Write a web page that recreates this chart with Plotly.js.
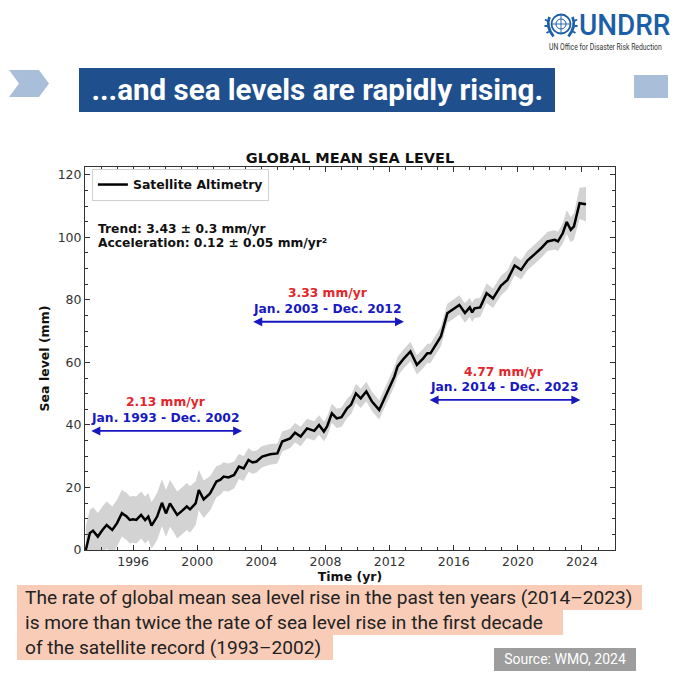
<!DOCTYPE html>
<html><head><meta charset="utf-8">
<script src="https://cdn.plot.ly/plotly-3.0.1.min.js"></script>
<style>
html,body{margin:0;padding:0;background:#fff;}
#wrap{position:relative;width:680px;height:680px;overflow:hidden;background:#fff;}
#chart{position:absolute;left:0;top:0;width:680px;height:680px;}
.ov{position:absolute;z-index:5;}
#banner{left:79px;top:68px;width:476px;height:44px;background:#1f4f8d;}
#bannerText{left:79px;top:68px;width:476px;height:44px;line-height:44px;text-align:center;color:#fff;font-family:Roboto,sans-serif;font-weight:700;font-size:30px;white-space:nowrap;}
#bannerText span{display:inline-block;transform:scaleX(0.985);transform-origin:center;}
#square{left:634px;top:75px;width:34px;height:23px;background:#a9bfd9;}
#undrr{left:579px;top:10px;font-family:Roboto,sans-serif;font-weight:500;font-size:30px;color:#1b5fa8;line-height:30px;white-space:nowrap;transform:scaleX(0.93);transform-origin:left top;}
#undrrSub{left:549px;top:42px;width:160px;font-family:Roboto,sans-serif;font-size:9px;color:#333;white-space:nowrap;transform:scaleX(0.76);transform-origin:left top;}
.hl{position:absolute;z-index:5;background:#f9ccb8;font-family:Roboto,sans-serif;font-size:19.1px;color:#222;white-space:nowrap;padding-left:8px;height:25px;line-height:25px;}
#src{left:494px;top:648px;width:142px;height:23px;line-height:23px;background:#9d9d9d;color:#fff;font-family:Roboto,sans-serif;font-size:14px;text-align:center;}
</style></head>
<body>
<div id="wrap">
<div id="chart"></div>
<svg class="ov" style="left:0;top:0" width="680" height="130">
  <polygon points="9,70 39,70 49,83.5 39,97 9,97 19,83.5" fill="#a9bfd9"/>
  <g transform="translate(561,24)" fill="none" stroke="#1b5fa8">
    <circle r="9.5" stroke-width="1.8"/>
    <circle r="5" stroke-width="1"/>
    <line x1="-9.5" y1="0" x2="9.5" y2="0" stroke-width="0.9"/>
    <line x1="0" y1="-9.5" x2="0" y2="9.5" stroke-width="0.9"/>
    <path d="M-11.5,-7 Q-15.5,2 -7.5,12.5 M11.5,-7 Q15.5,2 7.5,12.5" stroke-width="2.8"/>
    <path d="M-13.5,-3 L-16,-4.5 M-14,2 L-16.5,2 M-12,7.5 L-14.5,9 M13.5,-3 L16,-4.5 M14,2 L16.5,2 M12,7.5 L14.5,9" stroke-width="1.8"/>
  </g>
</svg>
<div class="ov" id="undrr">UNDRR</div>
<div class="ov" id="undrrSub">UN Office for Disaster Risk Reduction</div>
<div class="ov" id="banner"></div>
<div class="ov" id="bannerText"><span>...and sea levels are rapidly rising.</span></div>
<div class="ov" id="square"></div>
<div class="hl" style="left:17px;top:585px;width:617px;">The rate of global mean sea level rise in the past ten years (2014–2023)</div>
<div class="hl" style="left:17px;top:610px;width:538px;">is more than twice the rate of sea level rise in the first decade</div>
<div class="hl" style="left:17px;top:635px;width:308px;">of the satellite record (1993–2002)</div>
<div class="ov" id="src">Source: WMO, 2024</div>
</div>
<script>
// ---- data ----
const years = [1993.05,1993.3,1993.5,1993.8,1994.1,1994.35,1994.7,1995.0,1995.3,1995.6,1995.8,1996.0,1996.2,1996.5,1996.75,1996.95,1997.15,1997.5,1997.8,1998.05,1998.3,1998.55,1998.75,1999.05,1999.35,1999.55,1999.9,2000.1,2000.4,2000.8,2001.2,2001.45,2001.65,2001.95,2002.3,2002.6,2002.9,2003.2,2003.45,2003.7,2004.05,2004.55,2005.0,2005.3,2005.8,2006.1,2006.45,2006.85,2007.3,2007.6,2007.9,2008.1,2008.4,2008.7,2009.0,2009.35,2009.6,2009.9,2010.2,2010.55,2010.9,2011.35,2011.75,2012.05,2012.3,2012.5,2012.9,2013.3,2013.7,2014.1,2014.35,2014.55,2014.9,2015.2,2015.6,2015.9,2016.2,2016.35,2016.7,2017.0,2017.15,2017.3,2017.65,2018.05,2018.45,2018.95,2019.35,2019.8,2020.2,2020.6,2021.0,2021.45,2021.85,2022.3,2022.5,2022.8,2023.05,2023.3,2023.5,2023.85,2024.25];
const seaLevel = [0,5.4,6.2,4.3,6.5,8.0,6.4,8.6,11.8,10.7,9.6,9.8,9.6,11.2,9.6,10.7,7.8,10.7,15.1,11.7,14.9,13.0,11.2,12.5,13.9,13.0,14.9,19.2,16.2,18.1,21.9,22.5,23.5,23.2,24.0,26.7,26.1,28.8,28.0,28.3,29.9,30.6,30.9,34.7,35.7,37.5,36.3,38.9,38.1,40.0,37.9,39.5,43.7,42.1,42.5,45.3,46.5,50.1,48.5,50.7,47.5,44.8,49.1,52.8,55.5,58.7,61.3,63.5,59.2,61.3,62.9,62.9,65.6,68.3,75.7,76.8,77.9,78.4,75.8,77.6,76.0,77.3,77.6,82.1,80.5,84.6,86.4,91.0,89.6,92.6,94.4,96.5,98.7,99.2,98.7,101.3,104.9,102.4,103.5,110.9,110.6];
const uncertainty = [7.5,7.5,7.5,7.5,7.5,7.5,7.5,7.5,7.5,7.5,7.5,7.5,7.5,7.5,7.5,7.5,7.5,7.5,7.5,7.5,7.5,7.5,7.5,7.5,7.5,7.5,7.0,6.5,6.0,5.5,5.0,4.8,4.6,4.5,4.3,4.0,4.0,3.8,3.6,3.5,3.4,3.3,3.2,3.2,3.1,3.1,3.1,3.1,3.1,3.1,3.1,3.1,3.1,3.1,3.1,3.1,3.1,3.1,3.1,3.1,3.1,3.1,3.1,3.1,3.1,3.1,3.1,3.1,3.1,3.1,3.1,3.1,3.1,3.1,3.1,3.1,3.1,3.1,3.1,3.1,3.1,3.1,3.1,3.1,3.1,3.1,3.1,3.1,3.1,3.1,3.1,3.1,3.1,3.1,3.1,3.3,3.8,4.0,4.3,5.0,5.5];

const xTicks = [1996,2000,2004,2008,2012,2016,2020,2024];
const yTicks = [0,20,40,60,80,100,120];

const periodRates = ['2.13 mm/yr','3.33 mm/yr','4.77 mm/yr'];
const periodLabels = ['Jan. 1993 - Dec. 2002','Jan. 2003 - Dec. 2012','Jan. 2014 - Dec. 2023'];
const periodStart = [1993.3,2003.4,2014.4];
const periodEnd = [2002.8,2012.9,2023.9];
const arrowLevel = [38.1,73.0,48.0];
const rateLevel = [47.4,82.2,57.0];
const labelLevel = [42.2,77.1,52.2];

const statsText = ['Trend: 3.43 ± 0.3 mm/yr','Acceleration: 0.12 ± 0.05 mm/yr²'];
const statsLevel = [102.7,98.3];

// ---- build ----
const upper = seaLevel.map((v,i)=>v+uncertainty[i]);
const lower = seaLevel.map((v,i)=>v-uncertainty[i]);
const FONT = 'DejaVu Sans, sans-serif';
const RED = '#e3262b', BLUE = '#1818c0';

const band = {
  x: years.concat(years.slice().reverse()),
  y: upper.concat(lower.slice().reverse()),
  fill:'toself', fillcolor:'#d3d3d3', line:{width:0, color:'rgba(0,0,0,0)'},
  mode:'lines', showlegend:false, hoverinfo:'skip', type:'scatter'
};
const line = {x:years, y:seaLevel, mode:'lines', name:'<b>Satellite Altimetry</b>',
  line:{color:'#000', width:2.5}, type:'scatter'};

const ann = [];
for (let i=0;i<periodRates.length;i++){
  const mid = (periodStart[i]+periodEnd[i])/2;
  ann.push({x:mid, y:rateLevel[i], xref:'x', yref:'y', text:'<b>'+periodRates[i]+'</b>', showarrow:false,
    font:{family:FONT,size:12.3,color:RED}});
  ann.push({x:mid, y:labelLevel[i], xref:'x', yref:'y', text:'<b>'+periodLabels[i]+'</b>', showarrow:false,
    font:{family:FONT,size:12.3,color:BLUE}});
  ann.push({x:periodEnd[i], y:arrowLevel[i], ax:periodStart[i], ay:arrowLevel[i], xref:'x', yref:'y', axref:'x', ayref:'y',
    text:'', showarrow:true, arrowside:'end+start', arrowhead:2, arrowsize:1, arrowwidth:1.8, arrowcolor:BLUE, standoff:0, startstandoff:0});
}
for (let i=0;i<statsText.length;i++){
  ann.push({x:0.021, y:statsLevel[i], xref:'paper', yref:'y', xanchor:'left', text:'<b>'+statsText[i]+'</b>', showarrow:false,
    font:{family:FONT,size:12.3,color:'#111'}});
}

const axisCommon = {showline:true, linecolor:'#333', linewidth:1, mirror:'ticks', ticks:'inside', ticklen:5, tickwidth:1, tickcolor:'#333',
  showgrid:false, zeroline:false, tickfont:{family:FONT,size:12.5,color:'#333'}};

const layout = {
  width:680, height:680, paper_bgcolor:'#fff', plot_bgcolor:'#fff',
  margin:{l:85, r:65, t:167, b:130},
  title:{text:'<b>GLOBAL MEAN SEA LEVEL</b>', font:{family:FONT,size:14.5,color:'#111'}, x:0.5, xref:'paper', xanchor:'center', y:1, yref:'paper', yanchor:'bottom', pad:{b:4}},
  xaxis:Object.assign({}, axisCommon, {range:[1993,2026.06], tickvals:xTicks, ticktext:xTicks.map(String),
    minor:{dtick:1, tick0:1993, ticks:'inside', ticklen:3, tickcolor:'#333'},
    title:{text:'<b>Time (yr)</b>', font:{family:FONT,size:12.5,color:'#111'}, standoff:0}}),
  yaxis:Object.assign({}, axisCommon, {range:[0,122.5], tickvals:yTicks,
    minor:{dtick:5, tick0:0, ticks:'inside', ticklen:3, tickcolor:'#333'},
    title:{text:'<b>Sea level (mm)</b>', font:{family:FONT,size:12.5,color:'#111'}, standoff:5}}),
  showlegend:true,
  legend:{x:0.013, y:0.995, xanchor:'left', yanchor:'top', bgcolor:'#fff', bordercolor:'#d0d0d0', borderwidth:1,
    font:{family:FONT,size:12.5,color:'#111'}, itemwidth:30},
  annotations:ann
};
Plotly.newPlot('chart',[band,line],layout,{displayModeBar:false, staticPlot:true});
</script>
</body></html>
